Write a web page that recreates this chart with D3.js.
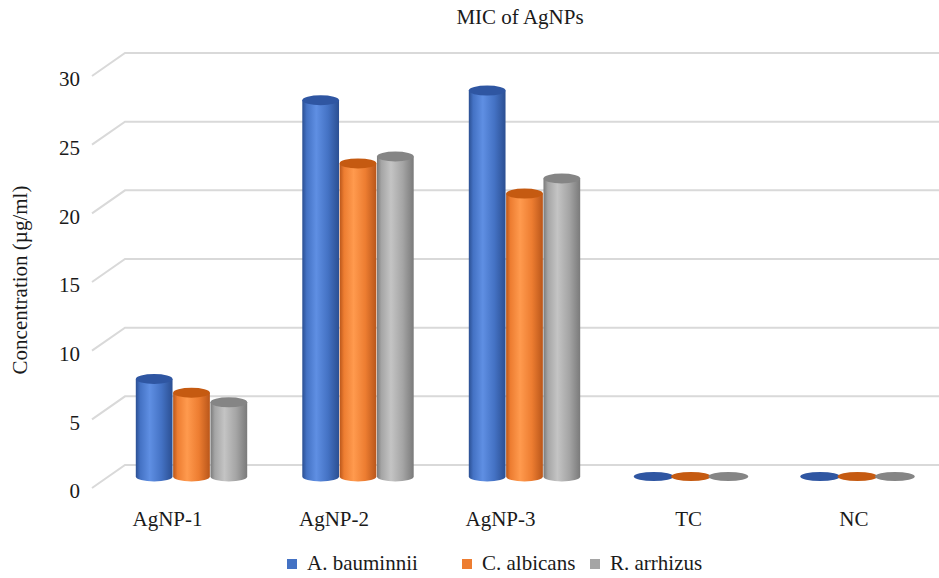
<!DOCTYPE html>
<html>
<head>
<meta charset="utf-8">
<script src="https://cdn.jsdelivr.net/npm/d3@7/dist/d3.min.js"></script>
<style>
  html, body { margin: 0; padding: 0; background: #fff; }
  svg { display: block; font-family: "Liberation Serif", "Times New Roman", serif; }
</style>
</head>
<body>
<svg id="chart" width="939" height="578"></svg>
<script>
// Minimum inhibitory concentration (µg/ml) per sample and organism
const categories = ["AgNP-1", "AgNP-2", "AgNP-3", "TC", "NC"];
const seriesNames = ["A. bauminnii", "C. albicans", "R. arrhizus"];
const bauminnii = [7.1, 27.4, 28.1, 0, 0];
const albicans = [6.1, 22.8, 20.6, 0, 0];
const arrhizus = [5.4, 23.3, 21.7, 0, 0];
const yTicks = [0, 5, 10, 15, 20, 25, 30];

const seriesValues = [bauminnii, albicans, arrhizus];
const palette = [
  { base: "#4472C4", light: "#5F8FE3", dark: "#2B4F92", top: "#2F56A2" },
  { base: "#ED7D31", light: "#FF9A4E", dark: "#B9561A", top: "#C55A11" },
  { base: "#A5A5A5", light: "#C4C4C4", dark: "#7A7A7A", top: "#858585" }
];

const svg = d3.select("#chart");
const W = 939;
const FS = 21;

// Front plane of the 3D box; the back wall is shifted by (depthX, depthY)
const y = d3.scaleLinear().domain([0, 30]).range([488, 76]);
const frontX = 92, depthX = 33, depthY = -23;

const x = d3.scalePoint().domain(categories).range([191.5, 857.5]);
const xs = d3.scaleBand().domain(seriesNames).range([-56, 56]).padding(0);

// Gridlines: short diagonal on the side, then along the back wall
const grid = svg.append("g");
yTicks.forEach(v => {
  const yf = y(v);
  grid.append("path")
    .attr("d", d3.line()([[frontX, yf], [frontX + depthX, yf + depthY], [W, yf + depthY]]))
    .attr("fill", "none")
    .attr("stroke", "#d9d9d9")
    .attr("stroke-width", 2);
});

// Y-axis tick labels
svg.append("g").selectAll("text").data(yTicks).join("text")
  .attr("x", 80)
  .attr("y", d => y(d) + 3)
  .attr("dy", "0.35em")
  .attr("text-anchor", "end")
  .attr("font-size", FS)
  .attr("fill", "#1a1a1a")
  .text(d => d);

// Gradients for cylinder shading
const defs = svg.append("defs");
palette.forEach((c, i) => {
  const g = defs.append("linearGradient").attr("id", "cyl" + i)
    .attr("x1", "0%").attr("x2", "100%").attr("y1", "0%").attr("y2", "0%");
  g.append("stop").attr("offset", "0%").attr("stop-color", c.dark);
  g.append("stop").attr("offset", "12%").attr("stop-color", c.base);
  g.append("stop").attr("offset", "38%").attr("stop-color", c.light);
  g.append("stop").attr("offset", "70%").attr("stop-color", c.base);
  g.append("stop").attr("offset", "100%").attr("stop-color", c.dark);
});

// Cylinders stand at mid depth
const midDY = depthY / 2;
const ry = 5;
const bars = svg.append("g");
categories.forEach((cat, ci) => {
  seriesNames.forEach((s, si) => {
    const v = seriesValues[si][ci];
    const cx = x(cat) + xs(s) + xs.bandwidth() / 2;
    const r = xs.bandwidth() / 2 - 0.3;
    const yb = y(0) + midDY;
    const yt = y(v) + midDY;
    if (v > 0) {
      bars.append("path")
        .attr("d", `M${cx - r},${yt} L${cx - r},${yb} A${r},${ry} 0 0 0 ${cx + r},${yb} L${cx + r},${yt} Z`)
        .attr("fill", `url(#cyl${si})`);
    }
    bars.append("ellipse")
      .attr("cx", cx).attr("cy", yt)
      .attr("rx", v > 0 ? r : r + 1.5).attr("ry", v > 0 ? ry : 4.5)
      .attr("fill", palette[si].top);
  });
});

// Category labels
svg.append("g").selectAll("text").data(categories).join("text")
  .attr("x", d => x(d) + 11)
  .attr("y", 526)
  .attr("text-anchor", "end")
  .attr("font-size", FS)
  .attr("fill", "#1a1a1a")
  .text(d => d);

// Title
svg.append("text")
  .attr("x", 520).attr("y", 24)
  .attr("text-anchor", "middle")
  .attr("font-size", FS)
  .attr("fill", "#1a1a1a")
  .text("MIC of AgNPs");

// Y-axis title
svg.append("text")
  .attr("transform", "translate(27,280) rotate(-90)")
  .attr("text-anchor", "middle")
  .attr("font-size", FS)
  .attr("fill", "#1a1a1a")
  .text("Concentration (µg/ml)");

// Legend
const legendX = [287, 462, 590];
const legend = svg.append("g");
seriesNames.forEach((s, i) => {
  legend.append("rect")
    .attr("x", legendX[i]).attr("y", 559)
    .attr("width", 10).attr("height", 10)
    .attr("fill", palette[i].base);
  legend.append("text")
    .attr("x", legendX[i] + 20).attr("y", 570)
    .attr("font-size", FS)
    .attr("fill", "#1a1a1a")
    .text(s);
});
</script>
</body>
</html>
